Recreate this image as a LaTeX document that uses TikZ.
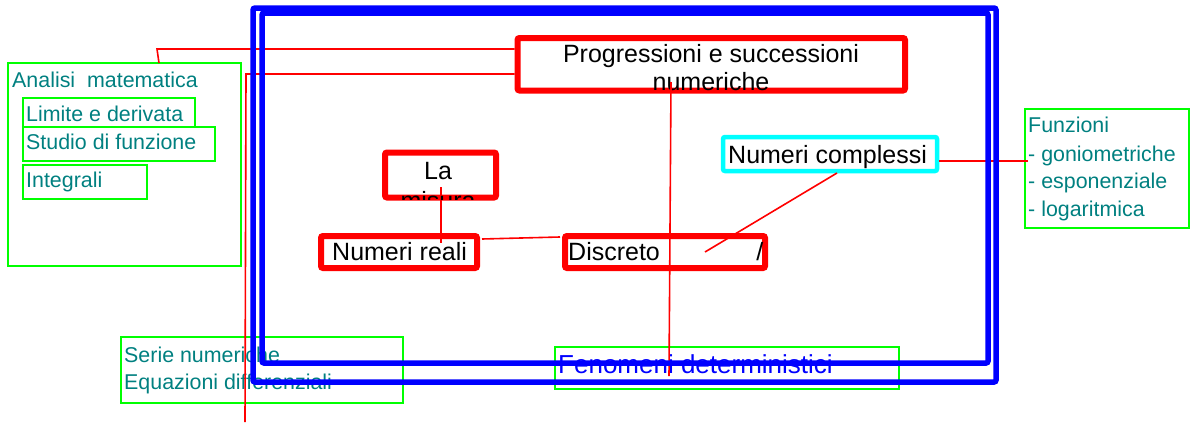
\documentclass[tikz,border=0pt]{standalone}
\usepackage{fontspec}
\setmainfont{Liberation Sans}
\definecolor{tealtxt}{RGB}{0,128,128}
\definecolor{brgreen}{RGB}{0,255,0}
\definecolor{pureblue}{RGB}{0,0,255}
\definecolor{purered}{RGB}{255,0,0}
\definecolor{purecyan}{RGB}{0,255,255}
\begin{document}
\begin{tikzpicture}[x=1pt,y=-1pt,
  gbox/.style={draw=brgreen, line width=2pt, inner sep=0pt, rectangle},
  rbox/.style={draw=purered, line width=6pt, inner sep=0pt, rectangle, rounded corners=2pt},
  cbox/.style={draw=purecyan, line width=4.5pt, inner sep=0pt, rectangle, rounded corners=2pt},
  bbox/.style={draw=pureblue, line width=5.5pt, inner sep=0pt, rectangle, rounded corners=2pt},
  gtxt/.style={inner sep=0pt, anchor=base west, font=\fontsize{21.4}{26}\selectfont, text=tealtxt},
  ktxt/.style={inner sep=0pt, font=\fontsize{25}{28}\selectfont, text=black},
  conn/.style={draw=purered, line width=1.6pt}
]
\useasboundingbox (0,0) rectangle (1190,423);

% green boxes
\node[gbox, minimum width=233pt, minimum height=203pt] (analisi) at (124.5,164.5) {};
\node[gbox, minimum width=172pt, minimum height=29pt] (limite) at (109,112.5) {};
\node[gbox, minimum width=192pt, minimum height=34pt] (studio) at (119,144) {};
\node[gbox, minimum width=124pt, minimum height=34pt] (integrali) at (85,182) {};
\node[gbox, minimum width=164pt, minimum height=119pt] (funzioni) at (1107,168.5) {};
\node[gbox, minimum width=282pt, minimum height=66pt] (serie) at (262,370) {};
\node[gbox, minimum width=344pt, minimum height=42pt] (fenomeni) at (727,368) {};

% teal texts
\node[gtxt] (tanalisi) at (12,87) {Analisi\ \ matematica};
\node[gtxt] (tlimite) at (26,121) {Limite e derivata};
\node[gtxt] (tstudio) at (26,149) {Studio di funzione};
\node[gtxt] (tintegrali) at (26,187) {Integrali};
\node[gtxt] (tf1) at (1028,132) {Funzioni};
\node[gtxt] (tf2) at (1028,161) {- goniometriche};
\node[gtxt] (tf3) at (1028,188) {- esponenziale};
\node[gtxt] (tf4) at (1028,216) {- logaritmica};
\node[gtxt] (tserie1) at (124,362) {Serie numeriche};
\node[gtxt] (tserie2) at (124,389) {Equazioni differenziali};
\node[inner sep=0pt, anchor=base west, font=\fontsize{26}{30}\selectfont, text=pureblue] (tfenomeni) at (558,373) {Fenomeni deterministici};

% connector coordinates
\coordinate (a1) at (159,63);
\coordinate (a2) at (157,49);
\coordinate (b1) at (246,74);
\coordinate (b2) at (245,422);
\coordinate (p1) at (671,82);
\coordinate (p2) at (669,376);
\coordinate (m1) at (441,187);
\coordinate (m2) at (441,243);
\coordinate (r1) at (482,239);
\coordinate (d1) at (560,237);
\coordinate (c1) at (837,173);
\coordinate (d2) at (705,252);
\coordinate (c2) at (939,161);
\coordinate (f1) at (1028,161);

% red boxes
\node[rbox, minimum width=387.5pt, minimum height=52.5pt] (prog) at (711.25,64.25) {};
\node[rbox, minimum width=111pt, minimum height=45pt] (misura) at (440.5,175) {};
\node[rbox, minimum width=156pt, minimum height=32pt] (reali) at (399,252) {};
\node[rbox, minimum width=200pt, minimum height=32pt] (discreto) at (665,252) {};
\node[cbox, minimum width=214pt, minimum height=34pt] (complessi) at (830,154) {};

% connectors
\draw[conn] (a1) -- (a2) -- (prog.west |- a2);
\draw[conn] (prog.west |- b1) -- (b1) -- (b2);
\draw[conn] (m1) -- (m2);
\draw[conn] (r1) -- (d1);
\draw[conn] (c1) -- (d2);
\draw[conn] (c2) -- (f1);

% black texts
\node[ktxt, anchor=base] (tprog1) at (711,62) {Progressioni e successioni};
\node[ktxt, anchor=base] (tprog2) at (711,90) {numeriche};
\node[ktxt, anchor=base] (tla) at (438,179) {La};
\begin{scope}
  \clip (382,149) rectangle (500,199);
  \node[ktxt, anchor=base] (tmisura) at (438,209) {misura};
\end{scope}
\node[ktxt, anchor=base west] (treali) at (332,260) {Numeri reali};
\node[ktxt, anchor=base west] (tdiscreto) at (568,260) {\makebox[195pt][l]{Discreto\hfill/}};
\node[ktxt, anchor=base west] (tcomplessi) at (728,163) {Numeri complessi};

\draw[conn] (p1) -- (p2);

% blue frames
\node[bbox, minimum width=743pt, minimum height=374pt] (outer) at (624.5,195) {};
\node[bbox, minimum width=726pt, minimum height=350pt] (inner) at (625,188) {};
\end{tikzpicture}
\end{document}
